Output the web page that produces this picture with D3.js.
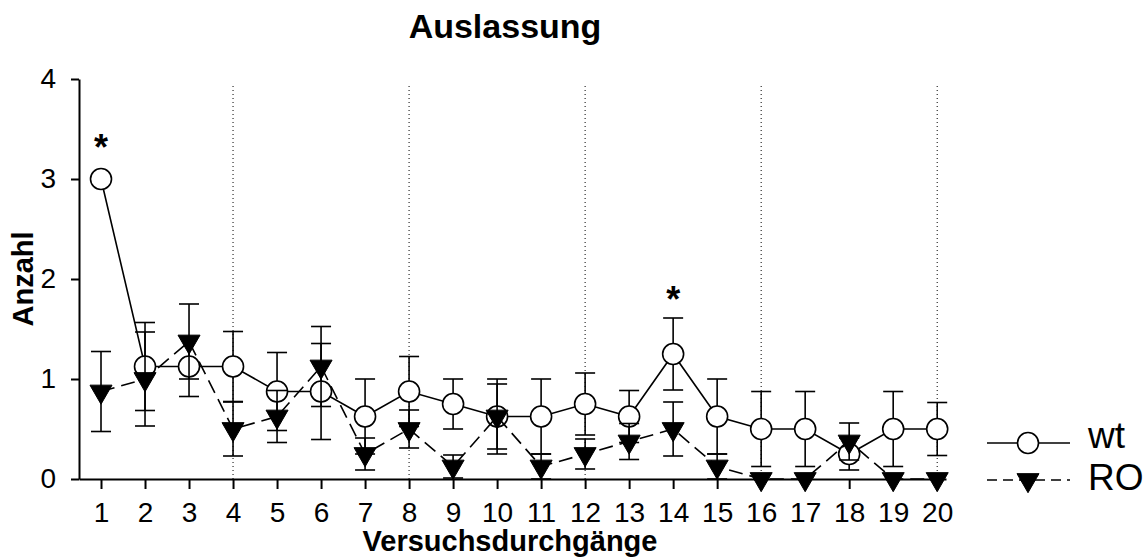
<!DOCTYPE html>
<html>
<head>
<meta charset="utf-8">
<script src="https://cdn.jsdelivr.net/npm/d3@7"></script>
<style>
  body { margin: 0; background: #fff; }
  svg { display: block; font-family: "Liberation Sans", Arial, sans-serif; }
</style>
</head>
<body>
<svg id="chart" width="1145" height="557"></svg>
<script>
// trials on the x axis
const trials = d3.range(1, 21);
const yTicks = [0, 1, 2, 3, 4];
const dottedAt = [4, 8, 12, 16, 20];

// wt group (open circles, solid line)
const wtMean = [3, 1.125, 1.125, 1.125, 0.875, 0.875, 0.625, 0.875, 0.75, 0.625,
  0.625, 0.75, 0.625, 1.25, 0.625, 0.5, 0.5, 0.25, 0.5, 0.5];
const wtSem = [0, 0.44, 0.3, 0.35, 0.39, 0.48, 0.375, 0.35, 0.25, 0.375,
  0.375, 0.31, 0.26, 0.36, 0.375, 0.375, 0.375, 0.16, 0.375, 0.265];

// RO group (filled triangles, dashed line)
const roMean = [0.875, 1, 1.375, 0.5, 0.625, 1.125, 0.25, 0.5, 0.125, 0.625,
  0.125, 0.25, 0.375, 0.5, 0.125, 0, 0, 0.375, 0, 0];
const roSem = [0.4, 0.47, 0.375, 0.27, 0.26, 0.4, 0.16, 0.19, 0.115, 0.325,
  0.125, 0.15, 0.18, 0.27, 0.125, 0, 0, 0.185, 0, 0];

// significance markers (trial, height in data units)
const stars = [[1, 3.4], [14, 1.88]];

const svg = d3.select('#chart');
const x = d3.scaleLinear().domain([0.5, 20.2]).range([79, 946]);
const y = d3.scaleLinear().domain([0, 4]).range([479, 79]);

const wt = trials.map((t, i) => ({ t, m: wtMean[i], s: wtSem[i] }));
const ro = trials.map((t, i) => ({ t, m: roMean[i], s: roSem[i] }));

// dotted guide lines
svg.selectAll('.guide')
  .data(dottedAt)
  .enter()
  .append('line')
  .attr('x1', (d) => x(d))
  .attr('x2', (d) => x(d))
  .attr('y1', y(0))
  .attr('y2', y(3.96))
  .attr('stroke', '#000')
  .attr('stroke-width', 1)
  .attr('stroke-dasharray', '1,3');

// axes
const yAxis = svg.append('g')
  .attr('transform', `translate(${x(0.5)},0)`)
  .call(d3.axisLeft(y).tickValues(yTicks).tickFormat(d3.format('d')).tickSize(8).tickSizeOuter(0).tickPadding(15));

const xAxis = svg.append('g')
  .attr('transform', `translate(0,${y(0)})`)
  .call(d3.axisBottom(x).tickValues(trials).tickFormat(d3.format('d')).tickSize(10).tickSizeOuter(0).tickPadding(13));

[xAxis, yAxis].forEach((g) => {
  g.select('.domain').attr('stroke-width', 2);
  g.selectAll('.tick line').attr('stroke-width', 2);
  g.selectAll('.tick text').attr('font-size', 28).attr('font-family', '"Liberation Sans", Arial, sans-serif').attr('fill', '#000');
});

// error bars
const drawErrors = (data, cls) => {
  const g = svg.append('g').attr('class', cls);
  const d = data.filter((p) => p.s > 0);
  g.selectAll('.v').data(d).enter().append('line')
    .attr('x1', (p) => x(p.t)).attr('x2', (p) => x(p.t))
    .attr('y1', (p) => y(p.m - p.s)).attr('y2', (p) => y(p.m + p.s));
  g.selectAll('.top').data(d).enter().append('line')
    .attr('x1', (p) => x(p.t) - 10).attr('x2', (p) => x(p.t) + 10)
    .attr('y1', (p) => y(p.m + p.s)).attr('y2', (p) => y(p.m + p.s));
  g.selectAll('.bot').data(d).enter().append('line')
    .attr('x1', (p) => x(p.t) - 10).attr('x2', (p) => x(p.t) + 10)
    .attr('y1', (p) => y(p.m - p.s)).attr('y2', (p) => y(p.m - p.s));
  g.selectAll('line').attr('stroke', '#000').attr('stroke-width', 1.6);
};

const line = d3.line().x((p) => x(p.t)).y((p) => y(p.m));
const tri = d3.symbol().type(d3.symbolTriangle).size(210);

// wt
svg.append('path')
  .datum(wt)
  .attr('d', line)
  .attr('fill', 'none')
  .attr('stroke', '#000')
  .attr('stroke-width', 1.6);
drawErrors(wt, 'wt-err');
svg.selectAll('.wt-dot')
  .data(wt)
  .enter()
  .append('circle')
  .attr('cx', (p) => x(p.t))
  .attr('cy', (p) => y(p.m))
  .attr('r', 10.5)
  .attr('fill', '#fff')
  .attr('stroke', '#000')
  .attr('stroke-width', 1.6);

// RO
svg.append('path')
  .datum(ro)
  .attr('d', line)
  .attr('fill', 'none')
  .attr('stroke', '#000')
  .attr('stroke-width', 1.6)
  .attr('stroke-dasharray', '14,7');
drawErrors(ro, 'ro-err');
svg.selectAll('.ro-dot')
  .data(ro)
  .enter()
  .append('path')
  .attr('d', tri)
  .attr('transform', (p) => `translate(${x(p.t)},${y(p.m)}) rotate(180)`)
  .attr('fill', '#000')
  .attr('stroke', '#000')
  .attr('stroke-width', 1);

// asterisks
svg.selectAll('.star')
  .data(stars)
  .enter()
  .append('text')
  .attr('x', (d) => x(d[0]))
  .attr('y', (d) => y(d[1]) + 21)
  .attr('text-anchor', 'middle')
  .attr('font-size', 36)
  .attr('font-weight', 'bold')
  .text('*');

// titles
svg.append('text')
  .attr('x', 505)
  .attr('y', 38)
  .attr('text-anchor', 'middle')
  .attr('font-size', 34)
  .attr('font-weight', 'bold')
  .text('Auslassung');

svg.append('text')
  .attr('x', 510)
  .attr('y', 551)
  .attr('text-anchor', 'middle')
  .attr('font-size', 29)
  .attr('font-weight', 'bold')
  .text('Versuchsdurchgänge');

svg.append('text')
  .attr('transform', `translate(33,${y(2)}) rotate(-90)`)
  .attr('text-anchor', 'middle')
  .attr('font-size', 29)
  .attr('font-weight', 'bold')
  .text('Anzahl');

// legend
const legend = svg.append('g');
legend.append('line').attr('x1', 987).attr('x2', 1070).attr('y1', 443).attr('y2', 443)
  .attr('stroke', '#000').attr('stroke-width', 1.6);
legend.append('circle').attr('cx', 1028).attr('cy', 443).attr('r', 10.5)
  .attr('fill', '#fff').attr('stroke', '#000').attr('stroke-width', 1.6);
legend.append('line').attr('x1', 987).attr('x2', 1070).attr('y1', 480).attr('y2', 480)
  .attr('stroke', '#000').attr('stroke-width', 1.6).attr('stroke-dasharray', '10,6');
legend.append('path').attr('d', tri).attr('transform', 'translate(1028,480) rotate(180)')
  .attr('fill', '#000').attr('stroke', '#000').attr('stroke-width', 1);
legend.append('text').attr('x', 1088).attr('y', 448).attr('font-size', 37).text('wt');
legend.append('text').attr('x', 1088).attr('y', 490).attr('font-size', 37).text('RO');
</script>
</body>
</html>
